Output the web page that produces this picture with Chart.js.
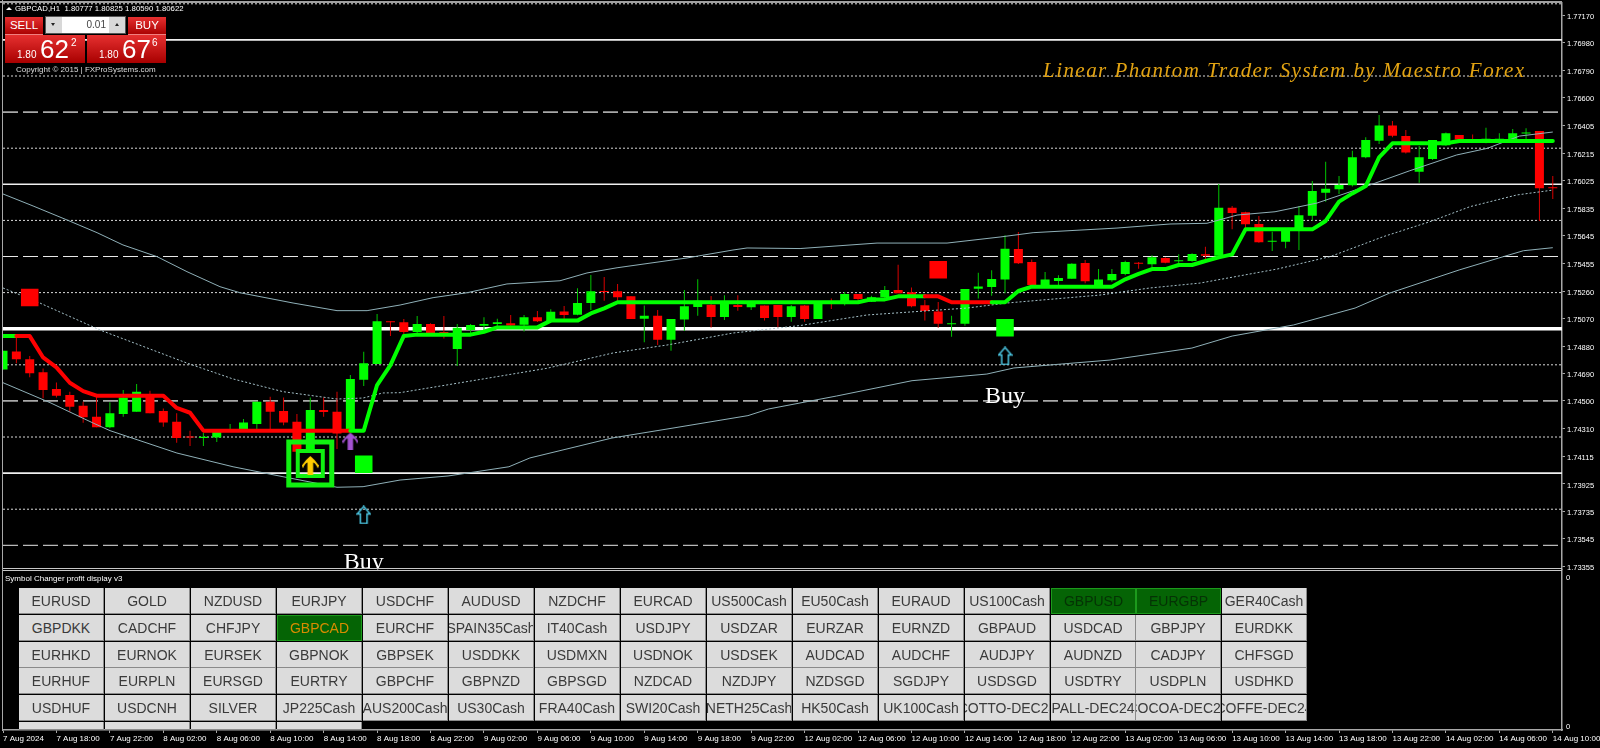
<!DOCTYPE html>
<html><head><meta charset="utf-8">
<script src="https://cdn.jsdelivr.net/npm/chart.js@4"></script>
<style>
html,body{margin:0;padding:0;background:#000;width:1600px;height:748px;overflow:hidden;font-family:"Liberation Sans",Arial,sans-serif}
canvas#c{position:absolute;left:0;top:0}
.abs{position:absolute;white-space:nowrap}
.red{background:linear-gradient(#e63030,#a80000);color:#fff}
.btn{position:absolute;width:85px;height:26px;background:#dcdcdc;color:#3a3a3a;font-size:14px;display:flex;align-items:center;justify-content:center;overflow:hidden;white-space:nowrap;box-sizing:border-box;border-right:1px solid #8a8a8a;border-bottom:1px solid #8a8a8a}
.btn.on{background:#056405;border:1px solid #1c9a1c;color:#053205}
.btn.cur{color:#d98c00}
</style></head><body>
<canvas id="c" width="1600" height="748"></canvas>
<div id="overlay"></div>
<script>
const pair = "GBPCAD,H1";
const quote = "1.80777 1.80825 1.80590 1.80622";
const titleText = "Linear Phantom Trader System by Maestro Forex";
const panelTitle = "Symbol Changer profit display v3";

const timeLabels = ["7 Aug 2024","7 Aug 18:00","7 Aug 22:00","8 Aug 02:00","8 Aug 06:00","8 Aug 10:00","8 Aug 14:00","8 Aug 18:00","8 Aug 22:00","9 Aug 02:00","9 Aug 06:00","9 Aug 10:00","9 Aug 14:00","9 Aug 18:00","9 Aug 22:00","12 Aug 02:00","12 Aug 06:00","12 Aug 10:00","12 Aug 14:00","12 Aug 18:00","12 Aug 22:00","13 Aug 02:00","13 Aug 06:00","13 Aug 10:00","13 Aug 14:00","13 Aug 18:00","13 Aug 22:00","14 Aug 02:00","14 Aug 06:00","14 Aug 10:00"];
const priceTicks = [1.7717,1.7698,1.7679,1.766,1.76405,1.76215,1.76025,1.75835,1.75645,1.75455,1.7526,1.7507,1.7488,1.7469,1.745,1.7431,1.74115,1.73925,1.73735,1.73545,1.73355];

const opens = [1.74718,1.74843,1.74788,1.74698,1.74582,1.74541,1.74467,1.74391,1.74317,1.74409,1.74425,1.74536,1.74430,1.74356,1.74252,1.74243,1.74247,1.74287,1.74298,1.74340,1.74494,1.74430,1.74356,1.74160,1.74437,1.74425,1.74298,1.74647,1.74755,1.75051,
1.75044,1.74977,1.75033,1.74977,1.74859,1.74991,1.75021,1.75033,1.75037,1.75028,1.75079,1.75049,1.75120,1.75097,1.75178,1.75259,1.75259,1.75224,1.75069,1.75090,1.74924,1.75063,1.75150,1.75166,1.75081,1.75164,1.75148,1.75160,1.75164,1.75081,
1.75160,1.75067,1.75185,1.75187,1.75240,1.75187,1.75217,1.75268,1.75252,1.75162,1.75120,1.75030,1.75035,1.75277,1.75289,1.75340,1.75552,1.75462,1.75303,1.75330,1.75346,1.75455,1.75291,1.75335,1.75379,1.75457,1.75446,1.75490,1.75467,1.75469,
1.75515,1.75506,1.75838,1.75806,1.75725,1.75603,1.75603,1.75679,1.75783,1.75942,1.75965,1.75993,1.76187,1.76302,1.76408,1.76334,1.76087,1.76175,1.76270,1.76341,1.76311,1.76291,1.76298,1.76298,1.76351,1.76369,1.75977];
const closes = [1.74848,1.74788,1.74691,1.74575,1.74536,1.74460,1.74386,1.74317,1.74414,1.74524,1.74564,1.74414,1.74351,1.74243,1.74247,1.74252,1.74287,1.74298,1.74351,1.74494,1.74425,1.74351,1.74148,1.74437,1.74423,1.74275,1.74651,1.74760,1.75051,1.75044,
1.74977,1.75033,1.74968,1.74968,1.75007,1.75026,1.75033,1.75044,1.75023,1.75079,1.75051,1.75118,1.75095,1.75178,1.75259,1.75254,1.75217,1.75067,1.75090,1.74924,1.75067,1.75155,1.75194,1.75081,1.75171,1.75150,1.75171,1.75074,1.75081,1.75155,
1.75067,1.75180,1.75180,1.75240,1.75206,1.75217,1.75268,1.75245,1.75155,1.75123,1.75035,1.75035,1.75275,1.75293,1.75344,1.75554,1.75453,1.75303,1.75340,1.75351,1.75450,1.75328,1.75340,1.75379,1.75462,1.75450,1.75494,1.75457,1.75473,1.75517,
1.75506,1.75838,1.75801,1.75723,1.75598,1.75607,1.75683,1.75785,1.75954,1.75970,1.75995,1.76187,1.76307,1.76408,1.76337,1.76221,1.76187,1.76307,1.76353,1.76311,1.76302,1.76316,1.76316,1.76353,1.76358,1.75972,1.75972];
const highs = [1.74848,1.74945,1.74811,1.74725,1.74628,1.74564,1.74494,1.74541,1.74490,1.74575,1.74617,1.74571,1.74448,1.74414,1.74294,1.74280,1.74294,1.74340,1.74374,1.74494,1.74529,1.74524,1.74409,1.74524,1.74524,1.74564,1.74679,1.74841,1.75102,1.75051,
1.75067,1.75088,1.75037,1.75088,1.75033,1.75033,1.75079,1.75069,1.75095,1.75095,1.75123,1.75134,1.75157,1.75280,1.75372,1.75358,1.75310,1.75224,1.75160,1.75130,1.75067,1.75268,1.75342,1.75226,1.75231,1.75231,1.75187,1.75160,1.75164,1.75164,
1.75164,1.75180,1.75210,1.75254,1.75240,1.75229,1.75296,1.75443,1.75286,1.75199,1.75185,1.75090,1.75275,1.75388,1.75404,1.75647,1.75670,1.75480,1.75393,1.75370,1.75453,1.75476,1.75413,1.75413,1.75471,1.75462,1.75508,1.75494,1.75515,1.75522,
1.75568,1.76002,1.75850,1.75810,1.75780,1.75672,1.75683,1.75850,1.76023,1.76157,1.76058,1.76233,1.76325,1.76480,1.76438,1.76376,1.76265,1.76307,1.76358,1.76341,1.76344,1.76392,1.76353,1.76383,1.76388,1.76369,1.76058];
const lows = [1.74718,1.74760,1.74663,1.74518,1.74524,1.74425,1.74349,1.74317,1.74310,1.74391,1.74425,1.74414,1.74321,1.74210,1.74187,1.74187,1.74215,1.74287,1.74298,1.74303,1.74303,1.74331,1.74148,1.74160,1.74391,1.74167,1.74287,1.74603,1.74755,1.74949,
1.74963,1.74956,1.74956,1.74933,1.74742,1.74963,1.74968,1.75014,1.75019,1.74980,1.75046,1.75042,1.75065,1.75093,1.75130,1.75194,1.75194,1.75067,1.74906,1.74887,1.74848,1.74984,1.75090,1.75009,1.75060,1.75125,1.75130,1.75056,1.75009,1.75049,
1.75049,1.75067,1.75136,1.75160,1.75194,1.75185,1.75210,1.75245,1.75148,1.75056,1.75007,1.74945,1.75021,1.75210,1.75229,1.75245,1.75448,1.75303,1.75291,1.75300,1.75346,1.75314,1.75286,1.75326,1.75370,1.75416,1.75423,1.75453,1.75430,1.75464,
1.75480,1.75506,1.75688,1.75695,1.75596,1.75538,1.75557,1.75545,1.75748,1.75880,1.75933,1.75984,1.76180,1.76279,1.76325,1.76214,1.76011,1.76168,1.76267,1.76295,1.76295,1.76284,1.76288,1.76288,1.76311,1.75746,1.75898];
const trend = [1.74949,1.74949,1.74949,1.74801,1.74732,1.74626,1.74568,1.74536,1.74536,1.74536,1.74536,1.74536,1.74536,1.74451,1.74418,1.74294,1.74294,1.74294,1.74294,1.74294,1.74294,1.74294,1.74294,1.74294,1.74294,1.74294,1.74294,1.74294,1.74610,1.74748,
1.74950,1.74959,1.74959,1.74959,1.74959,1.74959,1.74979,1.75009,1.75009,1.75009,1.75009,1.75056,1.75056,1.75056,1.75106,1.75141,1.75183,1.75183,1.75183,1.75183,1.75183,1.75183,1.75183,1.75183,1.75183,1.75183,1.75183,1.75183,1.75183,1.75183,
1.75183,1.75183,1.75183,1.75183,1.75183,1.75203,1.75203,1.75224,1.75224,1.75224,1.75224,1.75183,1.75183,1.75183,1.75183,1.75183,1.75261,1.75291,1.75291,1.75291,1.75291,1.75291,1.75291,1.75291,1.75342,1.75379,1.75413,1.75413,1.75441,1.75441,
1.75469,1.75494,1.75515,1.75688,1.75688,1.75688,1.75688,1.75688,1.75688,1.75746,1.75880,1.75937,1.75988,1.76187,1.76284,1.76284,1.76284,1.76284,1.76284,1.76300,1.76300,1.76300,1.76300,1.76300,1.76300,1.76300,1.76300];
const redSpans = [[1,26],[69,74]];

const upperIdx = [0,2.25,4.79,7.04,8.98,11.53,13.77,16.24,17.74,21.71,25,27.25,29.72,32.19,34.73,37.72,41.69,43.71,45.96,51.2,54.64,55.69,59.66,65.42,70.66,74.63,77.1,83.38,87.35,90.12,92.37,95.21,98.35,102.1,105.3,108.8,111.1,113.5,116];
const upperBand = [1.75933,1.75850,1.75753,1.75665,1.75580,1.75499,1.75395,1.75291,1.75249,1.75178,1.75125,1.75125,1.75164,1.75215,1.75249,1.75310,1.75332,1.75386,1.75422,1.75490,1.75545,1.75559,1.75555,1.75593,1.75593,1.75635,1.75665,1.75697,1.75725,1.75730,1.75787,1.75810,1.75870,1.75988,1.76094,1.76203,1.76249,1.76334,1.76362];
const midIdx = [0,2.54,7.26,13.77,17.22,20.96,25,26.95,28.44,29.72,35.48,40.72,45.66,49.7,54.64,57.19,59.66,64.67,72.16,75.15,82.1,85.85,89.6,95.36,99.33,103.3,106.8,109.8,113.3,116];
const midBand = [1.75282,1.75187,1.74991,1.74762,1.74652,1.74564,1.74513,1.74520,1.74555,1.74557,1.74645,1.74726,1.74832,1.74887,1.74970,1.74996,1.75022,1.75095,1.75143,1.75178,1.75233,1.75282,1.75316,1.75413,1.75499,1.75637,1.75741,1.75845,1.75926,1.75960];
const lowerIdx = [0,3.52,6.74,8.01,13.02,17.22,20.96,25,26.95,29.72,33.31,37.87,39.44,45.58,50.15,55.76,57.3,62.4,68.04,73.64,75.66,82.86,88.99,92,96.6,101.2,103.8,109,112.3,113.8,116];
const lowerBand = [1.74626,1.74488,1.74347,1.74294,1.74139,1.74044,1.73975,1.73902,1.73906,1.73952,1.73980,1.74044,1.74105,1.74243,1.74312,1.74398,1.74444,1.74534,1.74640,1.74686,1.74728,1.74783,1.74866,1.74949,1.75026,1.75143,1.75247,1.75407,1.75499,1.75540,1.75561];

const solidLevels = [1.77,1.76,1.74];
const thickLevels = [1.75];
const dottedLevels = [1.7725,1.7675,1.7625,1.7575,1.7525,1.7475,1.7425,1.7375];
const grayDashLevels = [1.765,1.745];
const whiteDashLevels = [1.755,1.735];

const redSquares = [{i:2,p:1.75216},{i:70,p:1.75409}];
const greenSquares = [{i:27,p:1.74061},{i:75,p:1.75006}];
const cyanArrows = [{i:27,p:1.73710},{i:75,p:1.74811}];
const buyLabels = [{i:27,p:1.73336},{i:75,p:1.74485}];
const purpleArrow = [{i:26,p:1.74222}];
const yellowArrow = [{i:23,p:1.74053}];
const signalBox = [{i:23,p:1.74067}];

const symbolRows = [
["EURUSD","GOLD","NZDUSD","EURJPY","USDCHF","AUDUSD","NZDCHF","EURCAD","US500Cash","EU50Cash","EURAUD","US100Cash","GBPUSD","EURGBP","GER40Cash"],
["GBPDKK","CADCHF","CHFJPY","GBPCAD","EURCHF","SPAIN35Cash","IT40Cash","USDJPY","USDZAR","EURZAR","EURNZD","GBPAUD","USDCAD","GBPJPY","EURDKK"],
["EURHKD","EURNOK","EURSEK","GBPNOK","GBPSEK","USDDKK","USDMXN","USDNOK","USDSEK","AUDCAD","AUDCHF","AUDJPY","AUDNZD","CADJPY","CHFSGD"],
["EURHUF","EURPLN","EURSGD","EURTRY","GBPCHF","GBPNZD","GBPSGD","NZDCAD","NZDJPY","NZDSGD","SGDJPY","USDSGD","USDTRY","USDPLN","USDHKD"],
["USDHUF","USDCNH","SILVER","JP225Cash","AUS200Cash","US30Cash","FRA40Cash","SWI20Cash","NETH25Cash","HK50Cash","UK100Cash","COTTO-DEC24","PALL-DEC24","COCOA-DEC24","COFFE-DEC24"],
["","","",""]];
const activeSymbols = ["GBPUSD","EURGBP","GBPCAD"];
const currentSymbol = "GBPCAD";

const XMAX = 116.69, YTOP = 1.772555, YBOT = 1.733325;
const UP='#00ff00', DN='#ff0000', UPW='#00c400', DNW='#d80000';
const FONT='"Liberation Sans",Arial,sans-serif';
const idx = opens.map((_,i)=>i);
const isUp = i => closes[i]>=opens[i];
const pts = a => a.map(o=>({x:o.i,y:o.p}));
const knots = (xs,ys)=>xs.map((x,k)=>({x,y:ys[k]}));
const noPad = s => {s.paddingLeft=0;s.paddingRight=0;s.paddingTop=0;s.paddingBottom=0;};

function levelSets(levels,style){
  return levels.map(v=>Object.assign({type:'line',data:[{x:0,y:v},{x:XMAX,y:v}],pointRadius:0,order:20,xAxisID:'x',yAxisID:'y'},style));
}
function arrowIcon(color,w,h,hollow){
  const c=document.createElement('canvas');c.width=w;c.height=h;const g=c.getContext('2d');
  g.beginPath();
  const m=w/2,s=hollow?w*0.22:w*0.17,hb=h*0.45;
  if(hollow){
    g.moveTo(m,1);g.lineTo(w-1,hb);g.lineTo(m+s,hb);g.lineTo(m+s,h-1);g.lineTo(m-s,h-1);g.lineTo(m-s,hb);g.lineTo(1,hb);g.closePath();
    g.strokeStyle=color;g.lineWidth=1.5;g.stroke();
  }else{
    g.moveTo(m,0);g.quadraticCurveTo(w*0.8,h*0.22,w,h*0.5);g.lineTo(w-1,h*0.66);g.quadraticCurveTo(w*0.8,h*0.36,m+s,h*0.34);
    g.lineTo(m+s,h);g.lineTo(m-s,h);g.lineTo(m-s,h*0.34);g.quadraticCurveTo(w*0.2,h*0.36,1,h*0.66);g.lineTo(0,h*0.5);g.quadraticCurveTo(w*0.2,h*0.22,m,0);g.closePath();
    g.fillStyle=color;g.fill();
  }
  return c;
}
const marker=(data,style)=>Object.assign({type:'line',data:pts(data),showLine:false,xAxisID:'x',yAxisID:'y',order:2},style);

const datasets=[
 ...levelSets(solidLevels,{borderColor:'#f0f0f0',borderWidth:1.6}),
 ...levelSets(thickLevels,{borderColor:'#ffffff',borderWidth:3.6}),
 ...levelSets(dottedLevels,{borderColor:'#d8d8d8',borderWidth:1,borderDash:[2,2]}),
 ...levelSets(grayDashLevels,{borderColor:'#a8a8a8',borderWidth:1.6,borderDash:[15,5]}),
 ...levelSets(whiteDashLevels,{borderColor:'#e8e8e8',borderWidth:1,borderDash:[15,5]}),
 {type:'bar',grouped:false,inflateAmount:0,barThickness:1,borderSkipped:false,order:12,xAxisID:'x',yAxisID:'y',
  data:idx.map(i=>({x:i,y:[lows[i],highs[i]]})),backgroundColor:idx.map(i=>isUp(i)?UPW:DNW)},
 {type:'bar',grouped:false,inflateAmount:0,barThickness:9,borderSkipped:false,order:11,xAxisID:'x',yAxisID:'y',
  data:idx.map(i=>({x:i,y:[opens[i],closes[i]]})),backgroundColor:idx.map(i=>isUp(i)?UP:DN),minBarLength:1},
 {type:'line',data:knots(upperIdx,upperBand),borderColor:'#8fb0b8',borderWidth:1,pointRadius:0,order:9,xAxisID:'x',yAxisID:'y'},
 {type:'line',data:knots(midIdx,midBand),borderColor:'#a5c0c8',borderWidth:1,borderDash:[2,2],pointRadius:0,order:9,xAxisID:'x',yAxisID:'y'},
 {type:'line',data:knots(lowerIdx,lowerBand),borderColor:'#8fb0b8',borderWidth:1,pointRadius:0,order:9,xAxisID:'x',yAxisID:'y'},
 {type:'line',data:idx.map(i=>({x:i,y:trend[i]})),borderWidth:4,pointRadius:0,order:8,xAxisID:'x',yAxisID:'y',borderColor:UP,borderCapStyle:'round',borderJoinStyle:'round',
  segment:{borderColor:c=>redSpans.some(s=>c.p0DataIndex>=s[0]&&c.p0DataIndex<s[1])?DN:UP}},
 marker(redSquares,{pointStyle:'rect',pointRadius:12.4,backgroundColor:DN,borderWidth:0}),
 marker(greenSquares,{pointStyle:'rect',pointRadius:12.4,backgroundColor:UP,borderWidth:0}),
 marker(signalBox,{pointStyle:'rect',pointRadius:30.4,backgroundColor:'transparent',borderColor:'#10f010',pointBorderColor:'#10f010',pointBorderWidth:5,borderWidth:5,order:3}),
 marker(signalBox,{pointStyle:'rect',pointRadius:17.7,backgroundColor:'transparent',borderColor:'#10f010',pointBorderColor:'#10f010',pointBorderWidth:4,borderWidth:4,order:3}),
 marker(cyanArrows,{pointStyle:arrowIcon('#4cc8e4',15,19,true),pointRadius:6}),
 marker(purpleArrow,{pointStyle:arrowIcon('#a452d2',16,17,false),pointRadius:6}),
 marker(yellowArrow,{pointStyle:arrowIcon('#ffcc00',17,19,false),pointRadius:6,order:1}),
];

const buyPlugin={id:'buy',afterDatasetsDraw(ch){
  const g=ch.ctx,x=ch.scales.x,y=ch.scales.y;
  g.save();g.beginPath();g.rect(x.left,y.top,x.width,y.height);g.clip();
  g.fillStyle='#fff';g.font='24px "Liberation Serif",serif';g.textAlign='center';g.textBaseline='alphabetic';
  buyLabels.forEach(b=>g.fillText('Buy',x.getPixelForValue(b.i),y.getPixelForValue(b.p)));
  g.restore();
}};

new Chart(document.getElementById('c'),{
 data:{datasets},
 plugins:[buyPlugin],
 options:{responsive:false,animation:false,devicePixelRatio:1,
  layout:{autoPadding:false,padding:{left:3,top:3,right:0,bottom:0}},
  plugins:{legend:{display:false},tooltip:{enabled:false}},
  scales:{
   x:{type:'linear',offset:false,min:0,max:XMAX,position:'bottom',
      afterBuildTicks:s=>{s.ticks=timeLabels.map((_,k)=>({value:k*4}))},
      afterFit:s=>{s.height=18;noPad(s)},
      grid:{display:true,offset:false,drawOnChartArea:false,drawTicks:true,tickLength:3,color:'#a8a8a8'},
      border:{color:'#a8a8a8',width:1.5},
      ticks:{autoSkip:false,maxRotation:0,minRotation:0,align:'start',padding:1,color:'#fff',font:{family:FONT,size:8},callback:(v)=>timeLabels[Math.round(v/4)]}},
   y:{type:'linear',offset:false,position:'right',min:YBOT,max:YTOP,stack:'p',stackWeight:566.5,
      afterBuildTicks:s=>{s.ticks=priceTicks.map(v=>({value:v}))},
      afterFit:s=>{s.width=38;noPad(s)},
      grid:{display:true,offset:false,drawOnChartArea:false,drawTicks:true,tickLength:3,color:'#a8a8a8'},
      border:{color:'#a8a8a8',width:1.5},
      ticks:{padding:2,labelOffset:1.5,color:'#fff',font:{family:FONT,size:7.5},callback:v=>v.toFixed(5),autoSkip:false}},
   y2:{type:'linear',offset:false,position:'right',min:0,max:1,stack:'p',stackWeight:160.5,
      afterBuildTicks:s=>{s.ticks=[{value:0.03},{value:0.956}]},
      afterFit:s=>{s.width=38;noPad(s)},
      grid:{display:false,drawTicks:false},
      border:{color:'#a8a8a8',width:1.5},
      ticks:{padding:4,labelOffset:1.5,color:'#fff',font:{family:FONT,size:7.5},callback:()=> '0',autoSkip:false}}
  }
 }
});

/* overlay widgets */
const NARROW='"Liberation Sans Narrow","Liberation Sans",sans-serif';
const ov=document.getElementById('overlay');
function add(css,html,cls){const d=document.createElement('div');d.className='abs '+(cls||'');d.style.cssText=css;d.innerHTML=html||'';ov.appendChild(d);return d;}
add('left:0;top:1px;width:1562px;height:1.5px;background:#a0a0a0');
add('left:1.5px;top:0;width:1.5px;height:731px;background:#a8a8a8');
add('left:3px;top:567.7px;width:1559px;height:1px;background:#c8c8c8');
add('left:3px;top:570px;width:1559px;height:1px;background:#c8c8c8');
add('left:6px;top:7px;width:0;height:0;border-left:3px solid transparent;border-right:3px solid transparent;border-bottom:3px solid #fff');
add('left:15px;top:4px;font-size:7.8px;line-height:10px;color:#fff',pair+' &nbsp;'+quote);
add('left:1043px;top:57px;width:480px;font:italic 21px/26px "Liberation Serif",serif;color:#e2a312;letter-spacing:1.45px',titleText);
/* trading panel */
add(`left:5px;top:17px;width:38px;height:18px;text-align:center;font:11.5px/17px ${NARROW};box-shadow:inset 0 -1px 0 #f08080`,'SELL','red');
add(`left:128px;top:17px;width:38px;height:18px;text-align:center;font:11.5px/17px ${NARROW};box-shadow:inset 0 -1px 0 #f08080`,'BUY','red');
add('left:45px;top:16px;width:81px;height:18px;background:#d8d8d8;border:1px solid #555;box-sizing:border-box');
add('left:62px;top:17px;width:47px;height:16px;background:#fff;color:#444;font-size:10px;line-height:16px;text-align:right;padding-right:3px;box-sizing:border-box','0.01');
add('left:51px;top:23px;width:0;height:0;border-left:2.5px solid transparent;border-right:2.5px solid transparent;border-top:3px solid #222');
add('left:115px;top:23px;width:0;height:0;border-left:2.5px solid transparent;border-right:2.5px solid transparent;border-bottom:3px solid #222');
add('left:5px;top:35px;width:80px;height:28px','','red');
add('left:87px;top:35px;width:79px;height:28px','','red');
[[17,40,71,'62','2'],[99,122,152,'67','6']].forEach(a=>{
 add(`left:${a[0]}px;top:49px;font-size:10px;line-height:12px;color:#fff`,'1.80');
 add(`left:${a[1]}px;top:34px;font-size:26px;line-height:30px;color:#fff`,a[3]);
 add(`left:${a[2]}px;top:37px;font-size:10px;line-height:12px;color:#fff`,a[4]);
});
add('left:16px;top:65px;font-size:8px;line-height:10px;color:#ddd','Copyright © 2015 | FXProSystems.com');
add('left:5px;top:574px;font-size:8px;line-height:10px;color:#fff',panelTitle);
/* symbol buttons */
symbolRows.forEach((row,r)=>row.forEach((s,c)=>{
  const top=Math.round(588.3+r*26.7),h=Math.min(26,730-top);
  const d=document.createElement('div');
  d.className='btn'+(activeSymbols.includes(s)?' on':'')+(s===currentSymbol?' cur':'');
  d.style.left=Math.round(19.4+c*85.93)+'px';d.style.top=top+'px';d.style.height=h+'px';
  d.textContent=s;ov.appendChild(d);
}));
</script>
</body></html>
